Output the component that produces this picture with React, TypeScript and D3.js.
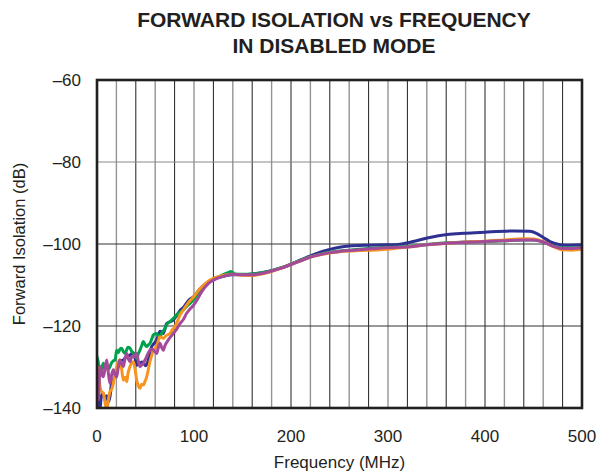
import React from "react";
import * as d3 from "d3";

const TITLE_LINES = ["FORWARD ISOLATION vs FREQUENCY", "IN DISABLED MODE"];
const X_LABEL = "Frequency (MHz)";
const Y_LABEL = "Forward Isolation (dB)";
const X_TICKS = [0, 100, 200, 300, 400, 500];
const Y_TICKS = [-60, -80, -100, -120, -140];
const X_GRID = d3.range(20, 500, 20);

const blueData: [number, number][] = [
  [0, -131], [1, -136], [2, -139.5], [3, -140.5], [4.5, -137], [6.5, -136.4], [8, -138], [10, -137],
  [11.5, -138.5], [13.4, -137.2], [15, -134], [16.8, -133.2], [18.5, -131.5], [20, -130.5], [22, -129.9],
  [24, -128.5], [27, -128.3], [30, -127.5], [34, -127.1], [37.5, -126.5], [39, -127.6], [41, -129.6],
  [44.3, -129.0], [47, -128.8], [50, -129.7], [52, -129.0], [54.6, -126.5], [56.4, -125], [58, -124.5],
  [61.5, -123.4], [65, -121.3], [68.4, -121.8], [71.8, -119.4], [75, -119], [78.7, -118.5], [82, -117.5],
  [86, -116.1], [89, -115.5], [92, -114.5], [96, -113.4], [100, -112.8], [105, -111.3], [110, -110.1],
  [115, -109.2], [120, -108.6], [130, -107.9], [140, -107.5], [150, -107.5], [160, -107.3], [170, -107.0],
  [180, -106.5], [190, -105.8], [200, -104.9], [210, -103.9], [220, -102.9], [230, -102.0], [240, -101.3],
  [250, -100.8], [260, -100.5], [280, -100.3], [300, -100.2], [310, -100.1], [326, -99.4], [343, -98.4],
  [361, -97.7], [378, -97.4], [395, -97.2], [430, -96.8], [446, -96.9], [453, -97.4], [460, -98.4],
  [467, -99.4], [474, -100.0], [484, -100.3], [500, -100.2],
];

const greenData: [number, number][] = [
  [0, -127.5], [1, -128.5], [2, -130], [3, -132.4], [4.5, -131], [6.5, -129.1], [8, -130.5], [10, -129.5],
  [12, -130.5], [13.4, -129.9], [15, -129], [16.8, -128.5], [18.6, -128.3], [20.3, -125.9], [22, -126.5],
  [23.7, -125.6], [25.4, -125.4], [27, -126.2], [28.9, -126.7], [30.6, -125.8], [32, -125.2], [34, -125.4],
  [36, -126.3], [37.5, -126.7], [39, -127.3], [40.9, -127.9], [42.5, -126.8], [44.3, -125.9], [46, -124.8],
  [47.8, -123.8], [49.5, -124.6], [51.2, -125.0], [53, -124.6], [54.6, -124.2], [56.4, -123.2],
  [58.1, -122.2], [60, -121.9], [61.5, -121.8], [63, -122.4], [64.9, -122.6], [67, -121.6], [70.1, -120.6],
  [72, -119.6], [75.3, -118.9], [78, -118.3], [82.1, -117.3], [85.6, -116.6], [89, -116.1], [92.4, -115.2],
  [95.9, -114.5], [100, -113.5], [105, -111.7], [110, -110.4], [115, -109.3], [120, -108.5], [125, -108.0],
  [130, -107.5], [135, -107.0], [138, -106.7], [142, -107.3], [150, -107.4], [160, -107.3], [170, -107.0],
  [180, -106.5], [190, -105.8], [200, -104.9], [210, -104.0], [220, -103.1], [230, -102.5], [240, -102.0],
  [250, -101.7], [260, -101.5], [270, -101.3], [280, -101.1], [300, -100.8], [326, -100.5], [340, -100.1],
  [361, -99.7], [380, -99.5], [400, -99.4], [420, -99.2], [440, -99.0], [450, -99.0], [460, -99.5],
  [470, -100.5], [480, -101.0], [490, -101.0], [500, -100.8],
];

const orangeData: [number, number][] = [
  [0, -129.9], [1.5, -131], [3.1, -134.8], [4.5, -136], [6.5, -136.4], [8.2, -138.5], [10, -140.5],
  [11.7, -138], [13.4, -136], [15, -135.5], [16.8, -134], [18.5, -131.5], [20.3, -129.9], [22, -128.7],
  [23.7, -128.3], [25.4, -130.5], [27.1, -133.2], [28.9, -132.5], [30.6, -133.6], [32, -131.5], [34, -129.9],
  [35.8, -129], [37.5, -128.7], [39.2, -130.5], [40.9, -133.2], [42.6, -134.6], [44.3, -135.2], [46, -134.2],
  [47.8, -134.4], [49.5, -133.5], [51.2, -132.4], [53, -130.5], [54.6, -128.7], [56.4, -127.2],
  [58.1, -125.9], [60, -125.4], [61.5, -125.0], [63, -123.8], [64.9, -122.6], [66.6, -122.8], [68.4, -123],
  [71, -122.4], [75.3, -121.8], [78, -120.8], [80.4, -120.2], [83, -118.8], [85.6, -117.3], [89, -116.1],
  [92.4, -114.9], [96, -113.8], [99.3, -113.0], [105, -111.2], [110, -110.0], [115, -109.0], [120, -108.4],
  [130, -107.7], [140, -107.4], [150, -107.6], [160, -107.7], [170, -107.3], [180, -106.7], [190, -105.9],
  [200, -105.0], [210, -104.1], [220, -103.2], [230, -102.6], [240, -102.2], [250, -101.9], [260, -101.7],
  [270, -101.6], [292, -101.4], [310, -101.0], [326, -100.6], [340, -100.2], [361, -99.8], [380, -99.5],
  [400, -99.3], [420, -99.0], [440, -98.7], [450, -98.8], [460, -99.4], [470, -100.6], [480, -101.4],
  [490, -101.5], [500, -101.3],
];

const magentaData: [number, number][] = [
  [0, -133.2], [0.7, -136], [1.4, -138], [2.2, -134], [3.1, -129.9], [4.8, -131], [6.5, -132.4],
  [8.2, -130.5], [10, -128.3], [11.7, -131.5], [13.4, -134], [15, -132], [16.8, -130.7], [18.6, -131.8],
  [20.3, -132.4], [22, -130], [23.7, -128.3], [25.4, -129.3], [27.1, -129.9], [28.9, -128], [30.6, -126.7],
  [32.3, -128], [34, -128.7], [35.8, -127.5], [37.5, -127.5], [39.2, -127], [40.9, -126.7], [42.6, -128.5],
  [44.3, -129.9], [46, -129.5], [47.8, -129.1], [49.5, -128.3], [51.2, -127.5], [53, -126.5],
  [54.6, -125.9], [56.4, -125.6], [58.1, -125.9], [60, -126.3], [61.5, -126.7], [63, -125.5],
  [64.9, -124.2], [66.6, -125.2], [68.4, -125.9], [70, -124.8], [73.5, -123.4], [76, -122.6],
  [78.7, -121.8], [82, -120.8], [85.6, -119.4], [89, -118.4], [92.4, -116.9], [96, -115.8], [99.3, -115.0],
  [103, -113.7], [108, -111.6], [115, -109.6], [120, -108.8], [130, -107.9], [140, -107.4], [150, -107.5],
  [160, -107.5], [170, -107.2], [180, -106.6], [190, -105.9], [200, -105.0], [210, -104.1], [220, -103.2],
  [230, -102.6], [240, -102.1], [250, -101.8], [260, -101.6], [270, -101.4], [280, -101.2], [300, -100.9],
  [326, -100.6], [340, -100.2], [361, -99.8], [380, -99.6], [400, -99.4], [420, -99.2], [440, -99.0],
  [450, -99.0], [460, -99.5], [470, -100.5], [480, -101.1], [490, -101.1], [500, -100.9],
];

const SERIES = [
  { name: "blue", color: "#2e3192", data: blueData },
  { name: "green", color: "#00a14b", data: greenData },
  { name: "orange", color: "#f7941d", data: orangeData },
  { name: "magenta", color: "#a5499b", data: magentaData },
];

const W = 603;
const H = 472;
const M = { left: 97, right: 582, top: 80, bottom: 408 };
const FONT = "'Liberation Sans', Arial, Helvetica, sans-serif";
const TEXT = "#231f20";

export default function App() {
  const x = d3.scaleLinear().domain([0, 500]).range([M.left, M.right]);
  const y = d3.scaleLinear().domain([-140, -60]).range([M.bottom, M.top]);
  const line = d3
    .line<[number, number]>()
    .x((d) => x(d[0]))
    .y((d) => y(d[1]))
    .curve(d3.curveMonotoneX);

  return (
    <svg
      width={W}
      height={H}
      style={{ position: "absolute", left: 0, top: 0, background: "#fff" }}
      fontFamily={FONT}
    >
      <rect x={0} y={0} width={W} height={H} fill="#fff" />
      {TITLE_LINES.map((t, i) => (
        <text
          key={t}
          x={334}
          y={26.5 + i * 26}
          textAnchor="middle"
          fontWeight="bold"
          fontSize={21}
          fill={TEXT}
        >
          {t}
        </text>
      ))}
      <defs>
        <clipPath id="plot">
          <rect x={M.left} y={M.top} width={M.right - M.left} height={M.bottom - M.top} />
        </clipPath>
      </defs>
      {X_GRID.map((v) => (
        <line
          key={"gx" + v}
          x1={x(v)}
          x2={x(v)}
          y1={M.top}
          y2={M.bottom}
          stroke={v % 40 === 0 ? "#231f20" : "#949494"}
          strokeWidth={v % 40 === 0 ? 1 : 1.4}
        />
      ))}
      {Y_TICKS.filter((v) => v > -140 && v < -60).map((v) => (
        <line
          key={"gy" + v}
          x1={M.left}
          x2={M.right}
          y1={y(v)}
          y2={y(v)}
          stroke={v === -80 ? "#8a8a8a" : "#333"}
          strokeWidth={1.2}
        />
      ))}
      <g clipPath="url(#plot)">
        {SERIES.map((s) => (
          <path
            key={s.name}
            d={line(s.data) || ""}
            fill="none"
            stroke={s.color}
            strokeWidth={3}
            strokeLinejoin="round"
            strokeLinecap="round"
          />
        ))}
      </g>
      <rect
        x={M.left}
        y={M.top}
        width={M.right - M.left}
        height={M.bottom - M.top}
        fill="none"
        stroke="#231f20"
        strokeWidth={2.6}
      />
      {Y_TICKS.map((v) => (
        <text
          key={"ty" + v}
          x={81}
          y={y(v)}
          dy="0.36em"
          textAnchor="end"
          fontSize={17}
          fill={TEXT}
        >
          {"\u2013" + Math.abs(v)}
        </text>
      ))}
      {X_TICKS.map((v) => (
        <text key={"tx" + v} x={x(v)} y={442} textAnchor="middle" fontSize={17} fill={TEXT}>
          {v}
        </text>
      ))}
      <text x={(M.left + M.right) / 2} y={468} textAnchor="middle" fontSize={17} fill={TEXT}>
        {X_LABEL}
      </text>
      <text
        transform={`translate(24.5, ${(M.top + M.bottom) / 2}) rotate(-90)`}
        textAnchor="middle"
        fontSize={16.5}
        fill={TEXT}
      >
        {Y_LABEL}
      </text>
    </svg>
  );
}
